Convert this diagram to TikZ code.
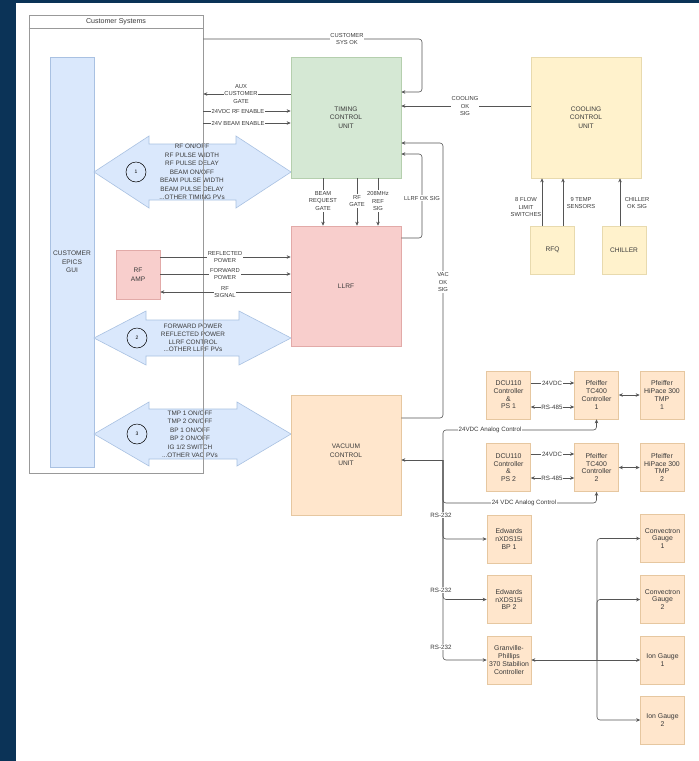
\documentclass[tikz,border=0pt]{standalone}
\usepackage{fontspec}
\setmainfont{Liberation Sans}
\usetikzlibrary{arrows.meta}

\definecolor{navy}{HTML}{0B3357}
\definecolor{txt}{HTML}{3A3A3A}
\definecolor{wire}{HTML}{555555}
\definecolor{greenf}{HTML}{D5E8D4}
\definecolor{greenb}{HTML}{B5CFAE}
\definecolor{redf}{HTML}{F8CECC}
\definecolor{redb}{HTML}{E2AAA8}
\definecolor{yellf}{HTML}{FFF2CC}
\definecolor{yellb}{HTML}{E8DAAE}
\definecolor{orf}{HTML}{FFE6CC}
\definecolor{orb}{HTML}{E6C7A0}
\definecolor{bluef}{HTML}{DAE8FC}
\definecolor{blueb}{HTML}{A9C1E2}

\newcommand{\boxfont}{\fontsize{6.6}{8.5}\selectfont}
\newcommand{\lblfont}{\fontsize{5.8}{7.8}\selectfont}
\newcommand{\pvfont}{\fontsize{6.4}{8.5}\selectfont}
\newcommand{\devfont}{\fontsize{6.9}{7.7}\selectfont}
\newcommand{\vacfont}{\fontsize{6.2}{7.5}\selectfont}

\begin{document}
\begin{tikzpicture}[
    x=1pt, y=-1pt,
    >={Stealth[length=4pt, width=3.5pt]},
    line/.style={draw=wire, line width=0.6pt},
    conn/.style={line, ->, rounded corners=3pt},
    unit/.style={rectangle, line width=0.6pt, minimum width=110pt, minimum height=121pt,
                 font=\boxfont, align=center, text=txt},
    dev/.style={rectangle, line width=0.6pt, fill=orf, draw=orb, minimum width=44pt,
                minimum height=48pt, font=\devfont, align=center, text=txt, inner sep=0pt},
    lbl/.style={font=\lblfont, align=center, fill=white, inner sep=0.8pt, text=txt},
    vlbl/.style={lbl, font=\vacfont},
    pv/.style={font=\pvfont, align=center, text=txt},
    num/.style={circle, draw=black, line width=0.5pt, minimum size=20pt, inner sep=0pt,
                font=\fontsize{5}{6}\selectfont},
    bigarrow/.style={fill=bluef, draw=blueb, line width=0.6pt}
]
    \useasboundingbox (0,0) rectangle (699,761);
    % 背景 (深蓝边框)
    \fill[navy] (0,0) rectangle (699,761);
    \fill[white] (16,3) rectangle (699,761);

    % 客户 EPICS GUI
    \node[rectangle, fill=bluef, draw=blueb, line width=0.6pt, minimum width=44pt,
          minimum height=410pt, font=\boxfont, align=center, text=txt]
          (gui) at (72,262) {CUSTOMER\\EPICS\\GUI};

    % 1. 双向大箭头 (PV 通道)
    \filldraw[bigarrow] (94,172) -- (149,136) -- (149,144) -- (236,144) -- (236,136)
        -- (291,172) -- (236,208) -- (236,200) -- (149,200) -- (149,208) -- cycle;
    \filldraw[bigarrow] (94,338) -- (146,311) -- (146,320) -- (239,320) -- (239,311)
        -- (291,338) -- (239,365) -- (239,356) -- (146,356) -- (146,365) -- cycle;
    \filldraw[bigarrow] (94,434) -- (149,402) -- (149,409) -- (237,409) -- (237,402)
        -- (291,434) -- (237,466) -- (237,459) -- (149,459) -- (149,466) -- cycle;

    \node[num] (n1) at (136,172) {1};
    \node[num] (n2) at (137,338) {2};
    \node[num] (n3) at (137,434) {3};

    \node[pv] (pv1) at (192,172) {RF ON/OFF\\RF PULSE WIDTH\\RF PULSE DELAY\\BEAM ON/OFF\\
        BEAM PULSE WIDTH\\BEAM PULSE DELAY\\...OTHER TIMING PVs};
    \node[pv, font=\fontsize{6.4}{7.8}\selectfont] (pv2) at (193,338)
        {FORWARD POWER\\REFLECTED POWER\\LLRF CONTROL\\...OTHER LLRF PVs};
    \node[pv] (pv3) at (190,434) {TMP 1 ON/OFF\\TMP 2 ON/OFF\\BP 1 ON/OFF\\BP 2 ON/OFF\\
        IG 1/2 SWITCH\\...OTHER VAC PVs};

    % 客户系统外框
    \node[rectangle, draw=gray!80, line width=0.7pt, minimum width=174pt,
          minimum height=458pt] (cs) at (116,244) {};
    \draw[gray!80, line width=0.7pt] ([yshift=-14pt]cs.north west) -- ([yshift=-14pt]cs.north east);
    \node[font=\fontsize{7.1}{8}\selectfont, text=txt] (cstitle) at (116,22) {Customer Systems};

    % 2. 控制单元
    \node[unit, fill=greenf, draw=greenb] (tcu) at (346,117.5) {TIMING\\CONTROL\\UNIT};
    \node[unit, fill=yellf, draw=yellb] (ccu) at (586,117.5) {COOLING\\CONTROL\\UNIT};
    \node[unit, fill=redf, draw=redb, minimum height=120pt] (llrf) at (346,286) {LLRF};
    \node[unit, fill=orf, draw=orb, minimum height=120pt] (vcu) at (346,455) {VACUUM\\CONTROL\\UNIT};
    \node[rectangle, fill=redf, draw=redb, line width=0.6pt, minimum width=44pt,
          minimum height=49pt, font=\boxfont, align=center, text=txt]
          (rfamp) at (138,274.5) {RF\\AMP};
    \node[dev, fill=yellf, draw=yellb, font=\boxfont] (rfq) at (552.5,250) {RFQ};
    \node[dev, fill=yellf, draw=yellb, font=\boxfont] (chiller) at (624,250) {CHILLER};

    % 3. 真空设备
    \node[dev] (dcu1) at (508.5,395) {DCU110\\Controller\\\&\\PS 1};
    \node[dev] (tc1) at (596.5,395) {Pfeiffer\\TC400\\Controller\\1};
    \node[dev] (hp1) at (662,395) {Pfeiffer\\HiPace 300\\TMP\\1};
    \node[dev] (dcu2) at (508.5,467.5) {DCU110\\Controller\\\&\\PS 2};
    \node[dev] (tc2) at (596.5,467.5) {Pfeiffer\\TC400\\Controller\\2};
    \node[dev] (hp2) at (662,467.5) {Pfeiffer\\HiPace 300\\TMP\\2};
    \node[dev] (bp1) at (509,539) {Edwards\\nXDS15i\\BP 1};
    \node[dev] (bp2) at (509,599.5) {Edwards\\nXDS15i\\BP 2};
    \node[dev] (gp) at (509,660) {Granville-\\Phillips\\370 Stabilion\\Controller};
    \node[dev] (cg1) at (662.5,538.5) {Convectron\\Gauge\\1};
    \node[dev] (cg2) at (662.5,599.5) {Convectron\\Gauge\\2};
    \node[dev] (ig1) at (662.5,660) {Ion Gauge\\1};
    \node[dev] (ig2) at (662.5,720) {Ion Gauge\\2};

    % 4. 时序单元的连线
    \draw[conn] (cs.east |- 0,39) -| (422,92) -- (tcu.east |- 0,92);
    \draw[line, ->] (tcu.west |- 0,94) -- (cs.east |- 0,94);
    \draw[line, ->] (cs.east |- 0,111) -- (tcu.west |- 0,111);
    \draw[line, ->] (cs.east |- 0,123) -- (tcu.west |- 0,123);
    \draw[line, ->] (ccu.west |- 0,106) -- (tcu.east |- 0,106);
    \draw[conn] (llrf.east |- 0,238) -| (422,154) -- (tcu.east |- 0,154);
    \draw[conn] (vcu.east |- 0,418) -| (443,143) -- (tcu.east |- 0,143);
    \draw[line, ->] (323,0 |- tcu.south) -- (323,0 |- llrf.north);
    \draw[line, ->] (357,0 |- tcu.south) -- (357,0 |- llrf.north);
    \draw[line, ->] (378,0 |- tcu.south) -- (378,0 |- llrf.north);

    \node[lbl] (lsysok) at (347,39) {CUSTOMER\\SYS OK};
    \node[lbl] (laux) at (241,94) {AUX\\CUSTOMER\\GATE};
    \node[lbl] (lrfen) at (238,111) {24VDC RF ENABLE};
    \node[lbl] (lbeamen) at (238,123) {24V BEAM ENABLE};
    \node[lbl] (lcool) at (465,106) {COOLING\\OK\\SIG};
    \node[lbl] (lllrfok) at (422,198) {LLRF OK SIG};
    \node[lbl] (lvacok) at (443,282) {VAC\\OK\\SIG};
    \node[lbl] (lbeamreq) at (323,201) {BEAM\\REQUEST\\GATE};
    \node[lbl] (lrfgate) at (357,201) {RF\\GATE};
    \node[lbl] (lref) at (378,201) {208MHz\\REF\\SIG};

    % 5. LLRF 与 RF AMP
    \draw[line, ->] (rfamp.east |- 0,257) -- (llrf.west |- 0,257);
    \draw[line, ->] (rfamp.east |- 0,274) -- (llrf.west |- 0,274);
    \draw[line, ->] (llrf.west |- 0,292) -- (rfamp.east |- 0,292);
    \node[lbl] (lrefl) at (225,257) {REFLECTED\\POWER};
    \node[lbl] (lfwd) at (225,274) {FORWARD\\POWER};
    \node[lbl] (lrfsig) at (225,292) {RF\\SIGNAL};

    % 6. 冷却单元
    \draw[line, ->] (542,0 |- rfq.north) -- (542,0 |- ccu.south);
    \draw[line, ->] (563,0 |- rfq.north) -- (563,0 |- ccu.south);
    \draw[line, ->] (620,0 |- chiller.north) -- (620,0 |- ccu.south);
    \node[font=\lblfont, align=center, text=txt] (lflow) at (526,207) {8 FLOW\\LIMIT\\SWITCHES};
    \node[font=\lblfont, align=center, text=txt] (ltemp) at (581,203) {9 TEMP\\SENSORS};
    \node[font=\lblfont, align=center, text=txt] (lchill) at (637,203) {CHILLER\\OK SIG};

    % 7. 真空总线
    \coordinate (vbus) at (443,460);
    \draw[conn] (vbus) -- (vcu.east |- vbus);
    \draw[conn] (vbus) |- (tc1.south |- 0,430) -- (tc1.south);
    \draw[conn] (vbus) |- (tc2.south |- 0,503) -- (tc2.south);
    \draw[conn] (vbus) |- (bp1.west);
    \draw[conn] (vbus) |- (bp2.west);
    \draw[conn] (vbus) |- (gp.west);

    \draw[line, ->] (dcu1.east |- 0,383) -- (tc1.west |- 0,383);
    \draw[line, <->] (dcu1.east |- 0,407) -- (tc1.west |- 0,407);
    \draw[line, <->] (tc1.east) -- (hp1.west);
    \draw[line, ->] (dcu2.east |- 0,454) -- (tc2.west |- 0,454);
    \draw[line, <->] (dcu2.east |- 0,478) -- (tc2.west |- 0,478);
    \draw[line, <->] (tc2.east) -- (hp2.west);

    \node[vlbl] (lan1) at (490,430) {24VDC Analog Control};
    \node[vlbl] (lan2) at (524,503) {24 VDC Analog Control};
    \node[vlbl] (ldc1) at (552,383) {24VDC};
    \node[vlbl] (lrs1) at (552,407) {RS-485};
    \node[vlbl] (ldc2) at (552,454) {24VDC};
    \node[vlbl] (lrs2) at (552,478) {RS-485};
    \node[vlbl] (lbp1) at (441,515) {RS-232};
    \node[vlbl] (lbp2) at (441,590) {RS-232};
    \node[vlbl] (lgp) at (441,647) {RS-232};

    % 8. 真空计
    \coordinate (gbus) at (597,660);
    \draw[line, <->] (gp.east) -- (ig1.west);
    \draw[conn] (gbus) |- (cg1.west);
    \draw[conn] (gbus) |- (cg2.west);
    \draw[conn] (gbus) |- (ig2.west);

\end{tikzpicture}
\end{document}
